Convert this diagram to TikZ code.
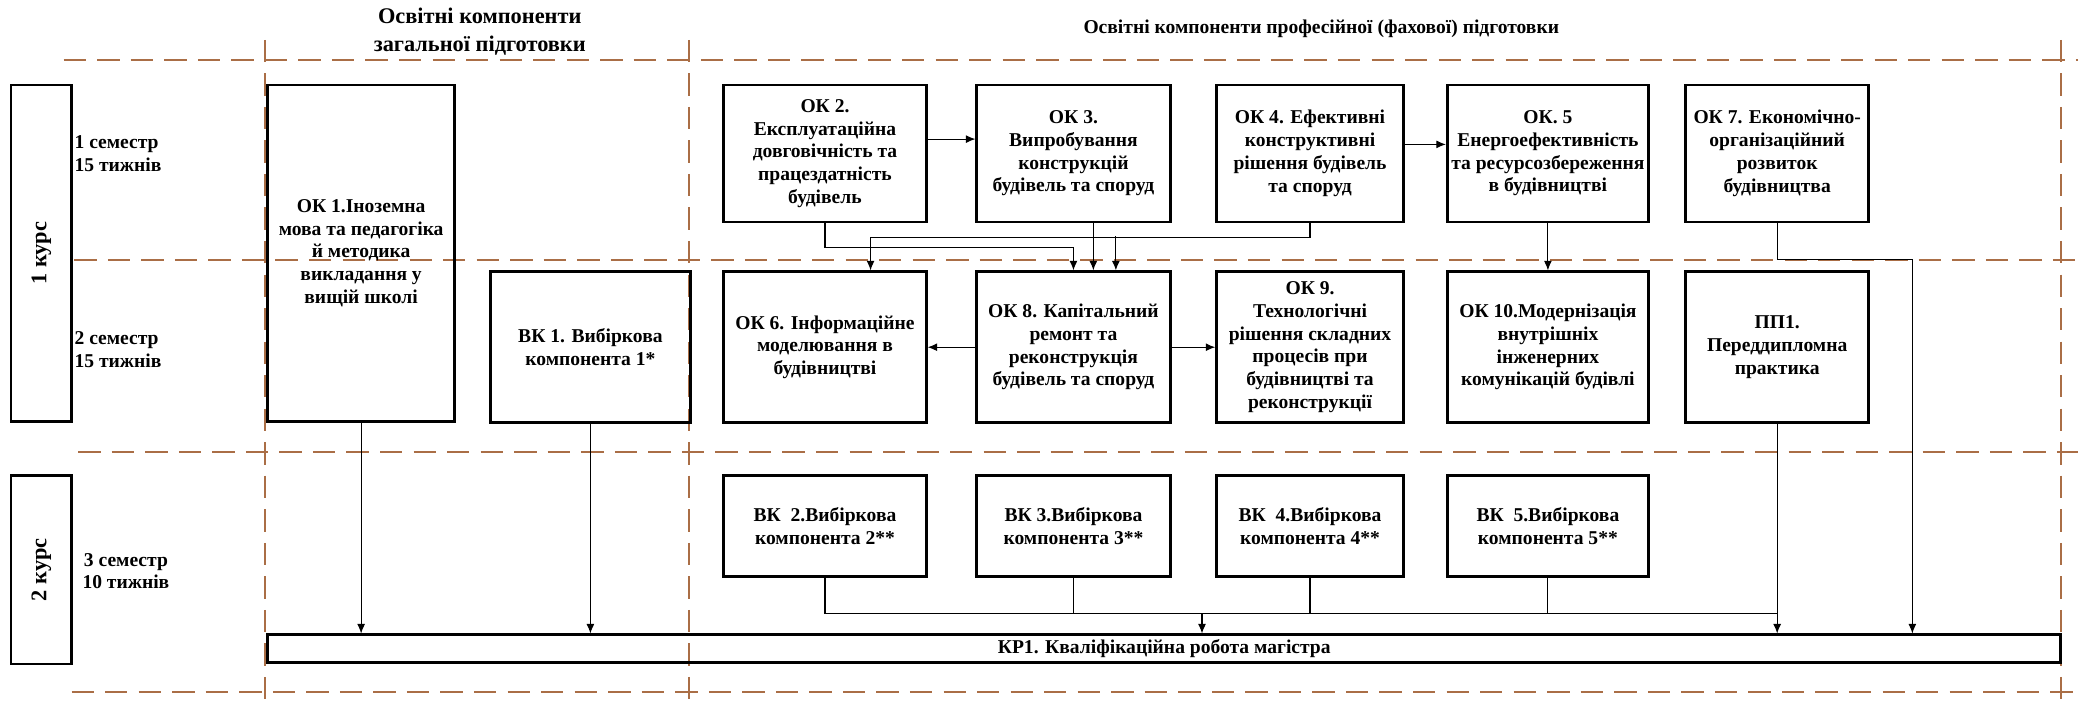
\documentclass[tikz,border=0pt]{standalone}
\usepackage{fontspec}
\setmainfont{Liberation Serif}
\usetikzlibrary{arrows.meta,positioning,calc}
\definecolor{sepbrown}{RGB}{170,110,70}

\begin{document}
\begin{tikzpicture}[
    compbox/.style={rectangle, draw, line width=1.4pt, align=center, inner sep=2pt,
        font=\fontsize{10.5}{12.2}\selectfont\bfseries},
    toprow/.style={compbox, minimum height=2.5875cm},
    midrow/.style={compbox, minimum height=2.85cm},
    lowrow/.style={compbox, minimum height=1.9cm},
    yearbox/.style={rectangle, draw, line width=1.4pt, rotate=90, minimum height=1.14cm,
        font=\fontsize{12}{14}\selectfont\bfseries},
    semlabel/.style={font=\fontsize{10.5}{12.2}\selectfont\bfseries, inner sep=0pt},
    hdr/.style={align=center, font=\fontsize{12}{15}\selectfont\bfseries},
    sepline/.style={draw=sepbrown, line width=1pt, dash pattern=on 12pt off 6pt},
    link/.style={-{Latex[length=1.8mm,width=1.5mm]}, line width=0.6pt},
    bus/.style={line width=0.6pt}
]
    \useasboundingbox (0,0) rectangle (39.2,13.3);

    % Dashed grid
    \draw[sepline] (1.2,12.175) -- (39.2,12.175);
    \draw[sepline] (1.4,8.4) -- (39.2,8.4);
    \draw[sepline] (1.475,4.775) -- (39.2,4.775);
    \draw[sepline] (1.35,0.25) -- (39.2,0.25);
    \foreach \x in {5.0,13.0,38.875}
        \draw[sepline] (\x,12.55) -- (\x,0);

    % Headers
    \node[hdr] (hdrgen) at (9.05,12.7) {Освітні компоненти\\загальної підготовки};
    \node[hdr, font=\fontsize{10.5}{13}\selectfont\bfseries] (hdrprof) at (24.925,12.75)
        {Освітні компоненти професійної (фахової) підготовки};

    % Years and semesters
    \node[yearbox, minimum width=6.35cm] (kurs1) at (0.78,8.525) {1 курс};
    \node[yearbox, minimum width=3.55cm] (kurs2) at (0.78,2.55) {2 курс};
    \node[semlabel, anchor=west, align=left] (sem1) at (1.4,10.4) {1 семестр\\15 тижнів};
    \node[semlabel, anchor=west, align=left] (sem2) at (1.4,6.7) {2 семестр\\15 тижнів};
    \node[semlabel, anchor=west, align=center] (sem3) at (1.55,2.525) {3 семестр\\10 тижнів};

    % General components
    \node[compbox, minimum width=3.525cm, minimum height=6.35cm] (ok1) at (6.8125,8.525)
        {ОК 1.Іноземна\\мова та педагогіка\\й методика\\викладання у\\вищій школі};
    \node[midrow, minimum width=3.775cm] (vk1) at (11.1375,6.75) {ВК 1. Вибіркова\\компонента 1*};

    % Professional components, semester 1
    \node[toprow, minimum width=3.825cm] (ok2) at (15.5625,10.406)
        {ОК 2.\\Експлуатаційна\\довговічність та\\працездатність\\будівель};
    \node[toprow, minimum width=3.65cm] (ok3) at (20.25,10.406)
        {ОК 3.\\Випробування\\конструкцій\\будівель та споруд};
    \node[toprow, minimum width=3.525cm] (ok4) at (24.7125,10.406)
        {ОК 4. Ефективні\\конструктивні\\рішення будівель\\та споруд};
    \node[toprow, minimum width=3.8cm] (ok5) at (29.2,10.406)
        {ОК. 5\\Енергоефективність\\та ресурсозбереження\\в будівництві};
    \node[toprow, minimum width=3.45cm] (ok7) at (33.525,10.406)
        {ОК 7. Економічно-\\організаційний\\розвиток\\будівництва};

    % Professional components, semester 2
    \node[midrow, minimum width=3.825cm] (ok6) at (15.5625,6.75)
        {ОК 6. Інформаційне\\моделювання в\\будівництві};
    \node[midrow, minimum width=3.65cm] (ok8) at (20.25,6.75)
        {ОК 8. Капітальний\\ремонт та\\реконструкція\\будівель та споруд};
    \node[midrow, minimum width=3.525cm] (ok9) at (24.7125,6.75)
        {ОК 9.\\Технологічні\\рішення складних\\процесів при\\будівництві та\\реконструкції};
    \node[midrow, minimum width=3.8cm] (ok10) at (29.2,6.75)
        {ОК 10.Модернізація\\внутрішніх\\інженерних\\комунікацій будівлі};
    \node[midrow, minimum width=3.45cm] (pp1) at (33.525,6.75)
        {ПП1.\\Переддипломна\\практика};

    % Elective components, semester 3
    \node[lowrow, minimum width=3.825cm] (vk2) at (15.5625,3.375) {ВК\ \ 2.Вибіркова\\компонента 2**};
    \node[lowrow, minimum width=3.65cm] (vk3) at (20.25,3.375) {ВК 3.Вибіркова\\компонента 3**};
    \node[lowrow, minimum width=3.525cm] (vk4) at (24.7125,3.375) {ВК\ \ 4.Вибіркова\\компонента 4**};
    \node[lowrow, minimum width=3.8cm] (vk5) at (29.2,3.375) {ВК\ \ 5.Вибіркова\\компонента 5**};

    % Final work
    \node[compbox, minimum width=33.825cm, minimum height=0.525cm, inner sep=0pt] (kr1) at (21.9625,1.0625)
        {КР1. Кваліфікаційна робота магістра};

    % Links between components
    \draw[link] ([yshift=2.7mm]ok2.east) -- ([yshift=2.7mm]ok3.west);
    \draw[link] ([yshift=1.7mm]ok4.east) -- ([yshift=1.7mm]ok5.west);
    \draw[link] (ok8.west) -- (ok6.east);
    \draw[link] (ok8.east) -- (ok9.west);
    \draw[link] (ok5.south) -- (ok10.north);
    \draw[link] (ok2.south) -- ++(0,-0.46) -| (ok8.north);
    \draw[link] ([xshift=3.75mm]ok3.south) -- ([xshift=3.75mm]ok8.north);
    \draw[link] (ok4.south) -- ++(0,-0.26) -| ([xshift=8.6mm]ok6.north);
    \coordinate (fork4) at (21.05,8.85);
    \draw[link] (fork4) -- (fork4 |- ok8.north);

    % Links to the final work
    \coordinate (turn7) at (36.075,8.4);
    \draw[link] (ok7.south) |- (turn7) -- (turn7 |- kr1.north);
    \draw[link] (pp1.south) -- (pp1.south |- kr1.north);
    \draw[link] (ok1.south) -- (ok1.south |- kr1.north);
    \draw[link] (vk1.south) -- (vk1.south |- kr1.north);
    \coordinate (bus) at (22.675,1.725);
    \draw[bus] (vk2.south) |- (pp1.south |- bus);
    \foreach \n in {vk3,vk4,vk5}
        \draw[bus] (\n.south) -- (\n.south |- bus);
    \draw[link] (bus) -- (bus |- kr1.north);
\end{tikzpicture}
\end{document}
